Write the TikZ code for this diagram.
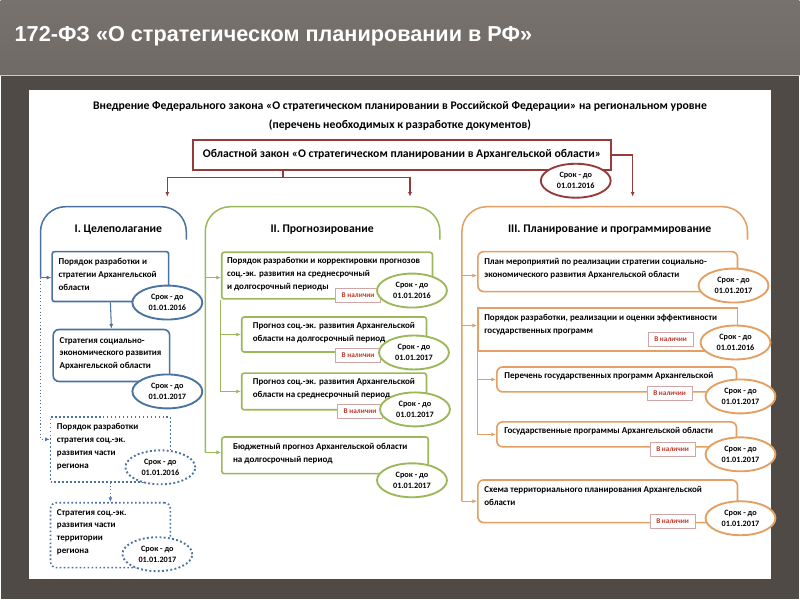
\documentclass[tikz,border=0pt]{standalone}
\usepackage{fontspec}
\setmainfont{Carlito}
\newfontfamily\titlefont{Liberation Sans}
\usetikzlibrary{shapes.geometric,arrows.meta,positioning}
\definecolor{lawred}{HTML}{973A3A}
\definecolor{goalblue}{HTML}{4A73A4}
\definecolor{progreen}{HTML}{9BB95A}
\definecolor{planorange}{HTML}{E3A062}
\definecolor{tagred}{HTML}{C0392B}
\definecolor{slidebg}{HTML}{4F4A46}
\definecolor{slidetop}{HTML}{77726E}
\tikzset{
  box/.style={draw=#1, line width=1.4pt, fill=white, rounded corners=2pt, inner sep=0pt},
  txt/.style={anchor=north west, align=left, inner sep=0pt, font=\bfseries\fontsize{7.7}{11}\selectfont},
  srok/.style={ellipse, draw=#1, line width=1.6pt, fill=white, minimum width=2.1cm, minimum height=1.02cm,
    inner sep=0pt, align=center, font=\bfseries\fontsize{7}{9.5}\selectfont},
  tag/.style={draw=lawred!45, fill=white, text=tagred, minimum width=1.35cm, minimum height=0.42cm,
    inner sep=0pt, font=\bfseries\fontsize{6.2}{7}\selectfont},
  arr/.style={draw=#1, line width=0.9pt, -{Latex[length=1.4mm,width=1.2mm]}},
  bracket/.style={draw=#1, line width=1.3pt, rounded corners=0.75cm}
}
\begin{document}
\begin{tikzpicture}[x=0.03cm,y=-0.03cm]
  % slide
  \fill[slidebg] (0,0) rectangle (800,600);
  \shade[top color=slidetop, bottom color=slidetop!80!slidebg] (0,0) rectangle (800,76);
  \draw[white!60!slidetop, line width=1pt] (0,76) -- (800,76);
  \fill[white] (28,90) rectangle (772,580);
  \node[anchor=west, text=white, font=\titlefont\bfseries\fontsize{18.5}{20}\selectfont] (title) at (10,36)
    {172-ФЗ «О стратегическом планировании в РФ»};
  % header
  \node[font=\bfseries\fontsize{10}{12}\selectfont] (head1) at (400,107)
    {Внедрение Федерального закона «О стратегическом планировании в Российской Федерации» на региональном уровне};
  \node[font=\bfseries\fontsize{10}{12}\selectfont] (head2) at (400,125) {(перечень необходимых к разработке документов)};
  \node[draw=lawred, line width=1.5pt, fill=white, minimum width=12.57cm, minimum height=0.9cm,
    font=\bfseries\fontsize{10}{12}\selectfont] (law) at (402,155)
    {Областной закон «О стратегическом планировании в Архангельской области»};
  \node[srok=lawred] (lawsrok) at (576,181) {Срок - до\\01.01.2016};
  \coordinate (lawfork) at (283,178);
  \coordinate (toI) at (167,197);
  \coordinate (toII) at (410,197);
  \coordinate (toIII) at (633,197);
  \draw[draw=lawred, line width=1.3pt] (law.south -| lawfork) -- (lawfork);
  \draw[arr=lawred, line width=1.3pt] (lawfork) -| (toI);
  \draw[arr=lawred, line width=1.3pt] (lawfork) -| (toII);
  \draw[arr=lawred, line width=1.3pt] (law.east) -| (toIII);

  % I
  \draw[bracket=goalblue] (40,278) -- (40,207) -- (186,207) -- (186,240);
  \node[font=\bfseries\fontsize{10}{12}\selectfont] (goal) at (118,230) {I. Целеполагание};
  \node[box=goalblue, minimum width=3.5cm, minimum height=1.5cm] (b1) at (110,277) {};
  \node[txt] at ([xshift=6pt,yshift=-6pt]b1.north west) {Порядок разработки и\\стратегии Архангельской\\области};
  \node[srok=goalblue] (b1s) at (167,303) {Срок - до\\01.01.2016};
  \node[box=goalblue, rounded corners=5pt, minimum width=3.5cm, minimum height=1.56cm] (b2) at (111,356) {};
  \node[txt] at ([xshift=6pt,yshift=-7pt]b2.north west) {Стратегия социально-\\экономического развития\\Архангельской области};
  \node[srok=goalblue] (b2s) at (167,392) {Срок - до\\01.01.2017};
  \node[box=goalblue, dotted, rounded corners=0pt, minimum width=3.6cm, minimum height=1.95cm] (b3) at (110,450) {};
  \node[txt] at ([xshift=6pt,yshift=-6pt]b3.north west) {Порядок разработки\\стратегия соц.-эк.\\развития части\\региона};
  \node[srok=goalblue, dotted] (b3s) at (160,468) {Срок - до\\01.01.2016};
  \node[box=goalblue, dotted, rounded corners=5pt, minimum width=3.6cm, minimum height=1.95cm] (b4) at (110,536) {};
  \node[txt] at ([xshift=6pt,yshift=-6pt]b4.north west) {Стратегия соц.-эк.\\развития части\\территории\\региона};
  \node[srok=goalblue, dotted] (b4s) at (157,555) {Срок - до\\01.01.2017};
  \coordinate (goalsplit) at (40,278);
  \draw[arr=goalblue] (goalsplit) -- (b1.west |- goalsplit);
  \draw[arr=goalblue, dotted] (goalsplit) -- (40,440) -- (b3.west |- 0,440);
  \draw[arr=goalblue] (b1.south) -- (b2.north);
  \draw[arr=goalblue, dotted] (b3.south) -- (b4.north);

  % II
  \draw[bracket=progreen] (205,453) -- (205,207) -- (440,207) -- (440,240);
  \node[font=\bfseries\fontsize{10}{12}\selectfont] (prog) at (322,230) {II. Прогнозирование};
  \node[box=progreen, minimum width=6.33cm, minimum height=1.4cm] (g1) at (327,276) {};
  \node[txt] at ([xshift=5pt,yshift=-5pt]g1.north west) {Порядок разработки и корректировки прогнозов\\соц.-эк. развития на среднесрочный\\и долгосрочный периоды};
  \node[tag] (g1t) at (358,296) {В наличии};
  \node[srok=progreen] (g1s) at (412,291) {Срок - до\\01.01.2016};
  \node[box=progreen, minimum width=5.55cm, minimum height=1.05cm] (g2) at (334,335) {};
  \node[txt] at ([xshift=10pt,yshift=-5pt]g2.north west) {Прогноз соц.-эк. развития Архангельской\\области на долгосрочный период};
  \node[tag] (g2t) at (358,356) {В наличии};
  \node[srok=progreen] (g2s) at (414,353) {Срок - до\\01.01.2017};
  \node[box=progreen, minimum width=5.55cm, minimum height=1.1cm] (g3) at (334,392) {};
  \node[txt] at ([xshift=10pt,yshift=-5pt]g3.north west) {Прогноз соц.-эк. развития Архангельской\\области на среднесрочный период};
  \node[tag] (g3t) at (360,412) {В наличии};
  \node[srok=progreen] (g3s) at (415,410) {Срок - до\\01.01.2017};
  \node[box=progreen, minimum width=6.2cm, minimum height=1.1cm] (g4) at (325,456) {};
  \node[txt] at ([xshift=10pt,yshift=-6pt]g4.north west) {Бюджетный прогноз Архангельской области\\на долгосрочный период};
  \node[srok=progreen] (g4s) at (412,481) {Срок - до\\01.01.2017};
  \coordinate (progsplit) at (205,278);
  \draw[arr=progreen] (progsplit) -- (g1.west |- progsplit);
  \draw[arr=progreen] (205,453) -- (g4.west |- 0,453);
  \draw[arr=progreen] (g1.south west) |- (g2.west);
  \draw[arr=progreen] (g1.south west) |- (g3.west);

  % III
  \draw[bracket=planorange] (462,502) -- (462,207) -- (748,207) -- (748,240);
  \node[font=\bfseries\fontsize{10}{12}\selectfont] (plan) at (610,230) {III. Планирование и программирование};
  \node[box=planorange, rounded corners=5pt, minimum width=7.8cm, minimum height=1.2cm] (o1) at (608,272) {};
  \node[txt] at ([xshift=6pt,yshift=-6pt]o1.north west) {План мероприятий по реализации стратегии социально-\\экономического развития Архангельской области};
  \node[srok=planorange] (o1s) at (734,286) {Срок - до\\01.01.2017};
  \node[box=planorange, rounded corners=0pt, minimum width=7.8cm, minimum height=1.3cm] (o2) at (608,330) {};
  \node[txt] at ([xshift=6pt,yshift=-6pt]o2.north west) {Порядок разработки, реализации и оценки эффективности\\государственных программ};
  \node[tag] (o2t) at (671,340) {В наличии};
  \node[srok=planorange] (o2s) at (736,343) {Срок - до\\01.01.2016};
  \node[box=planorange, rounded corners=5pt, minimum width=7.2cm, minimum height=0.75cm] (o3) at (617,380) {};
  \node[txt] at ([xshift=7pt,yshift=-5pt]o3.north west) {Перечень государственных программ Архангельской};
  \node[tag] (o3t) at (670,394) {В наличии};
  \node[srok=planorange] (o3s) at (741,397) {Срок - до\\01.01.2017};
  \node[box=planorange, rounded corners=5pt, minimum width=7.2cm, minimum height=0.75cm] (o4) at (617,435) {};
  \node[txt] at ([xshift=7pt,yshift=-5pt]o4.north west) {Государственные программы Архангельской области};
  \node[tag] (o4t) at (673,450) {В наличии};
  \node[srok=planorange] (o4s) at (741,455) {Срок - до\\01.01.2017};
  \node[box=planorange, rounded corners=5pt, minimum width=7.8cm, minimum height=1.28cm] (o5) at (608,502) {};
  \node[txt] at ([xshift=6pt,yshift=-6pt]o5.north west) {Схема территориального планирования Архангельской\\области};
  \node[tag] (o5t) at (673,522) {В наличии};
  \node[srok=planorange] (o5s) at (741,519) {Срок - до\\01.01.2017};
  \coordinate (plansplit) at (462,276);
  \draw[arr=planorange] (plansplit) -- (o1.west |- plansplit);
  \draw[arr=planorange] (462,326) -- (o2.west |- 0,326);
  \draw[arr=planorange] (462,502) -- (o5.west |- 0,502);
  \draw[arr=planorange] (o2.south west) |- (o3.west);
  \draw[arr=planorange] (o2.south west) |- (o4.west);
\end{tikzpicture}
\end{document}
